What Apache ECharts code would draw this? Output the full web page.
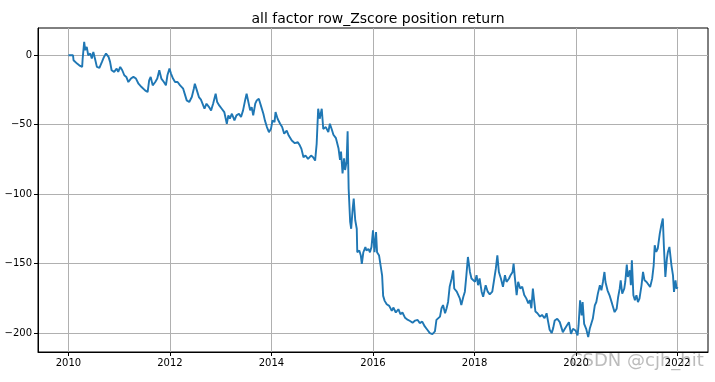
<!DOCTYPE html>
<html>
<head>
<meta charset="utf-8">
<script src="https://cdn.jsdelivr.net/npm/echarts@6/dist/echarts.min.js"></script>
<style>html,body{margin:0;padding:0;background:#fff}#c{width:715px;height:382px}</style>
</head>
<body>
<div id="c"></div>
<script>
const title = 'all factor row_Zscore position return';
const xTicks = [2010, 2012, 2014, 2016, 2018, 2020, 2022];
const yTicks = [-200, -150, -100, -50, 0];
const dates = [
2010.00,2010.09,2010.10,2010.17,2010.23,2010.27,2010.28,2010.31,2010.33,2010.36,2010.39,2010.43,2010.46,2010.49,2010.53,2010.56,2010.61,2010.66,2010.70,2010.74,2010.79,2010.82,2010.85,2010.90,2010.95,2010.98,
2011.02,2011.06,2011.10,2011.14,2011.18,2011.23,2011.28,2011.33,2011.38,2011.44,2011.51,2011.56,2011.59,2011.62,2011.66,2011.71,2011.75,2011.79,2011.83,2011.88,2011.92,2011.95,2011.99,
2012.02,2012.06,2012.10,2012.15,2012.20,2012.26,2012.30,2012.33,2012.38,2012.43,2012.47,2012.49,2012.53,2012.57,2012.61,2012.64,2012.68,2012.72,2012.77,2012.81,2012.85,2012.90,2012.93,2012.97,
2013.02,2013.07,2013.12,2013.15,2013.18,2013.22,2013.27,2013.31,2013.36,2013.40,2013.44,2013.48,2013.51,2013.54,2013.58,2013.61,2013.64,2013.68,2013.71,2013.75,2013.79,2013.84,2013.87,2013.91,2013.95,2013.99,
2014.02,2014.06,2014.08,2014.12,2014.17,2014.21,2014.25,2014.30,2014.34,2014.40,2014.46,2014.52,2014.56,2014.59,2014.63,2014.67,2014.72,2014.78,2014.82,2014.86,2014.89,2014.92,2014.95,2014.99,
2015.02,2015.07,2015.12,2015.15,2015.19,2015.22,2015.27,2015.30,2015.32,2015.35,2015.37,2015.40,2015.43,2015.45,2015.48,2015.50,2015.52,2015.55,2015.57,2015.60,2015.62,2015.65,2015.68,2015.69,2015.73,2015.76,2015.78,2015.81,2015.85,2015.87,2015.91,2015.94,2015.97,
2016.00,2016.03,2016.06,2016.08,2016.12,2016.15,2016.18,2016.20,2016.23,2016.27,2016.32,2016.37,2016.40,2016.45,2016.50,2016.54,2016.58,2016.63,2016.67,2016.73,2016.78,2016.83,2016.88,2016.92,2016.97,
2017.02,2017.07,2017.12,2017.17,2017.22,2017.25,2017.28,2017.32,2017.35,2017.38,2017.42,2017.45,2017.48,2017.51,2017.55,2017.58,2017.60,2017.65,2017.68,2017.71,2017.74,2017.78,2017.81,2017.84,2017.87,2017.91,2017.94,2017.97,
2018.01,2018.04,2018.07,2018.10,2018.14,2018.17,2018.22,2018.26,2018.30,2018.35,2018.39,2018.42,2018.45,2018.48,2018.52,2018.56,2018.60,2018.63,2018.68,2018.71,2018.75,2018.77,2018.79,2018.83,2018.86,2018.90,2018.94,2018.98,
2019.02,2019.06,2019.09,2019.12,2019.15,2019.17,2019.20,2019.24,2019.29,2019.33,2019.38,2019.42,2019.45,2019.48,2019.52,2019.55,2019.58,2019.63,2019.68,2019.71,2019.74,2019.78,2019.81,2019.86,2019.90,2019.94,2019.99,
2020.03,2020.05,2020.08,2020.11,2020.13,2020.16,2020.20,2020.24,2020.27,2020.30,2020.33,2020.37,2020.40,2020.43,2020.47,2020.50,2020.53,2020.56,2020.58,2020.62,2020.66,2020.71,2020.76,2020.80,2020.83,2020.86,2020.88,2020.91,2020.95,2020.97,
2021.00,2021.02,2021.06,2021.08,2021.10,2021.13,2021.16,2021.19,2021.22,2021.25,2021.29,2021.32,2021.35,2021.39,2021.42,2021.46,2021.50,2021.53,2021.55,2021.58,2021.61,2021.65,2021.68,2021.71,2021.73,2021.76,2021.79,2021.81,2021.84,2021.88,2021.91,2021.93,2021.96,2021.98,2022.00
];
const values = [
0,0,-3.6,-6.0,-7.7,-8.4,-2.4,9.6,3.6,6.0,0,1.2,-2.4,2.4,-3.6,-8.4,-9.1,-4.8,-1.2,1.2,-1.2,-4.8,-10.8,-12.0,-9.6,-12.0,
-8.4,-10.8,-14.4,-15.6,-19.3,-16.8,-15.6,-16.8,-20.5,-22.9,-25.3,-26.5,-18.1,-15.6,-21.7,-19.3,-16.8,-10.8,-16.8,-19.3,-21.7,-14.4,-9.6,
-13.2,-16.8,-19.3,-19.3,-21.7,-24.1,-28.9,-32.5,-33.7,-30.1,-24.1,-20.5,-25.3,-30.1,-32.0,-30.6,-38.5,-34.9,-37.3,-39.7,-34.9,-27.7,-33.7,-36.1,
-38.5,-40.9,-49.3,-43.3,-45.7,-42.1,-46.9,-43.3,-42.1,-44.5,-39.7,-32.5,-27.7,-27.2,-39.7,-37.3,-43.3,-34.9,-32.5,-31.3,-36.1,-42.1,-46.9,-51.7,-55.4,-53.0,
-46.9,-48.1,-40.9,-45.7,-49.3,-51.7,-56.5,-54.2,-57.8,-61.4,-63.3,-62.6,-65.0,-67.4,-73.4,-72.2,-74.6,-72.2,-73.4,-75.8,-63.8,-38.5,-45.7,-38.5,
-53.0,-51.7,-55.4,-49.3,-53.6,-57.2,-59.7,-58.5,-66.9,-75.4,-69.3,-85.0,-74.2,-82.6,-76.6,-54.8,-95.9,-120.0,-124.9,-110.4,-103.1,-118.8,-124.9,-141.8,-140.6,-144.2,-150.2,-141.8,-138.1,-140.6,-139.4,-141.8,-138.1,
-126.1,-141.8,-127.3,-141.8,-144.2,-151.4,-158.7,-173.2,-176.8,-179.2,-180.4,-184.0,-181.6,-185.2,-182.8,-186.4,-185.2,-188.9,-190.1,-191.3,-192.5,-191.0,-190.5,-192.8,-191.7,
-195.2,-197.6,-200.0,-200.7,-198.8,-190.5,-191.7,-188.1,-182.1,-179.8,-185.7,-182.1,-177.4,-166.7,-160.7,-154.8,-167.9,-170.2,-169.0,-175.0,-179.8,-173.8,-170.2,-158.3,-145.2,-156.0,-160.7,-159.5,
-163.1,-158.3,-165.5,-160.7,-170.2,-173.8,-165.5,-170.2,-172.1,-170.2,-160.7,-153.6,-144.0,-156.0,-160.7,-166.7,-158.3,-163.1,-160.7,-158.3,-156.0,-150.0,-158.3,-172.6,-163.1,-167.9,-166.7,-172.6,
-175.0,-178.6,-176.2,-182.1,-167.9,-175.0,-184.5,-185.7,-188.1,-186.9,-189.3,-185.7,-191.7,-197.6,-200.0,-196.4,-190.9,-189.7,-192.1,-195.7,-199.3,-196.9,-198.1,-192.1,-200.5,-196.9,-198.1,
-201.7,-194.5,-176.4,-187.3,-177.6,-193.3,-196.9,-202.9,-196.9,-193.3,-189.7,-180.0,-177.6,-171.6,-165.6,-169.2,-163.2,-156.0,-163.2,-169.2,-172.8,-178.8,-184.9,-182.5,-174.0,-168.0,-162.0,-171.6,-168.0,-163.2,
-150.7,-159.6,-154.8,-165.6,-147.6,-172.8,-176.4,-172.8,-177.6,-175.2,-165.6,-156.0,-162.0,-163.2,-164.4,-166.8,-160.8,-151.2,-136.8,-141.6,-139.2,-128.4,-122.4,-117.5,-136.8,-159.6,-146.4,-141.6,-138.0,-151.2,-158.4,-170.4,-162.0,-168.0,-166.8
];
const data = dates.map((d, i) => [d, values[i]]);

const chart = echarts.init(document.getElementById('c'), null, {renderer: 'canvas'});
const FONT = 'DejaVu Sans';
chart.setOption({
  animation: false,
  backgroundColor: '#ffffff',
  title: {
    text: title, left: 373, top: 7, textAlign: 'center',
    textStyle: {fontFamily: FONT, fontSize: 14, fontWeight: 'normal', color: '#000'}
  },
  grid: {left: 38, right: 7, top: 28, bottom: 30, show: true, borderColor: '#000', borderWidth: 1, containLabel: false},
  xAxis: {
    type: 'value', min: 2009.4, max: 2022.6,
    axisLine: {show: true, onZero: false, lineStyle: {color: '#000', width: 1}},
    axisTick: {show: true, inside: false, length: 4, lineStyle: {color: '#000'}, customValues: xTicks},
    axisLabel: {show: true, customValues: xTicks, color: '#000', fontFamily: FONT, fontSize: 10, margin: 6, formatter: v => String(v)},
    splitLine: {show: true, lineStyle: {color: '#b0b0b0', width: 1}}
  },
  yAxis: {
    type: 'value', min: -213.6, max: 19.6,
    axisLine: {show: true, onZero: false, lineStyle: {color: '#000', width: 1}},
    axisTick: {show: true, inside: false, length: 4, lineStyle: {color: '#000'}, customValues: yTicks},
    axisLabel: {show: true, customValues: yTicks, color: '#000', fontFamily: FONT, fontSize: 10, margin: 6, formatter: v => String(v).replace('-', '\u2212')},
    splitLine: {show: true, lineStyle: {color: '#b0b0b0', width: 1}}
  },
  graphic: [{
    type: 'text', left: 570, top: 352,
    style: {text: 'CSDN @cjh_hit', fill: 'rgba(160,160,160,0.7)', font: '18px "DejaVu Sans"'}
  }],
  series: [{
    type: 'line', data: data, showSymbol: false, symbol: 'none',
    lineStyle: {color: '#1f77b4', width: 1.9}, z: 3
  }]
});
</script>
</body>
</html>
